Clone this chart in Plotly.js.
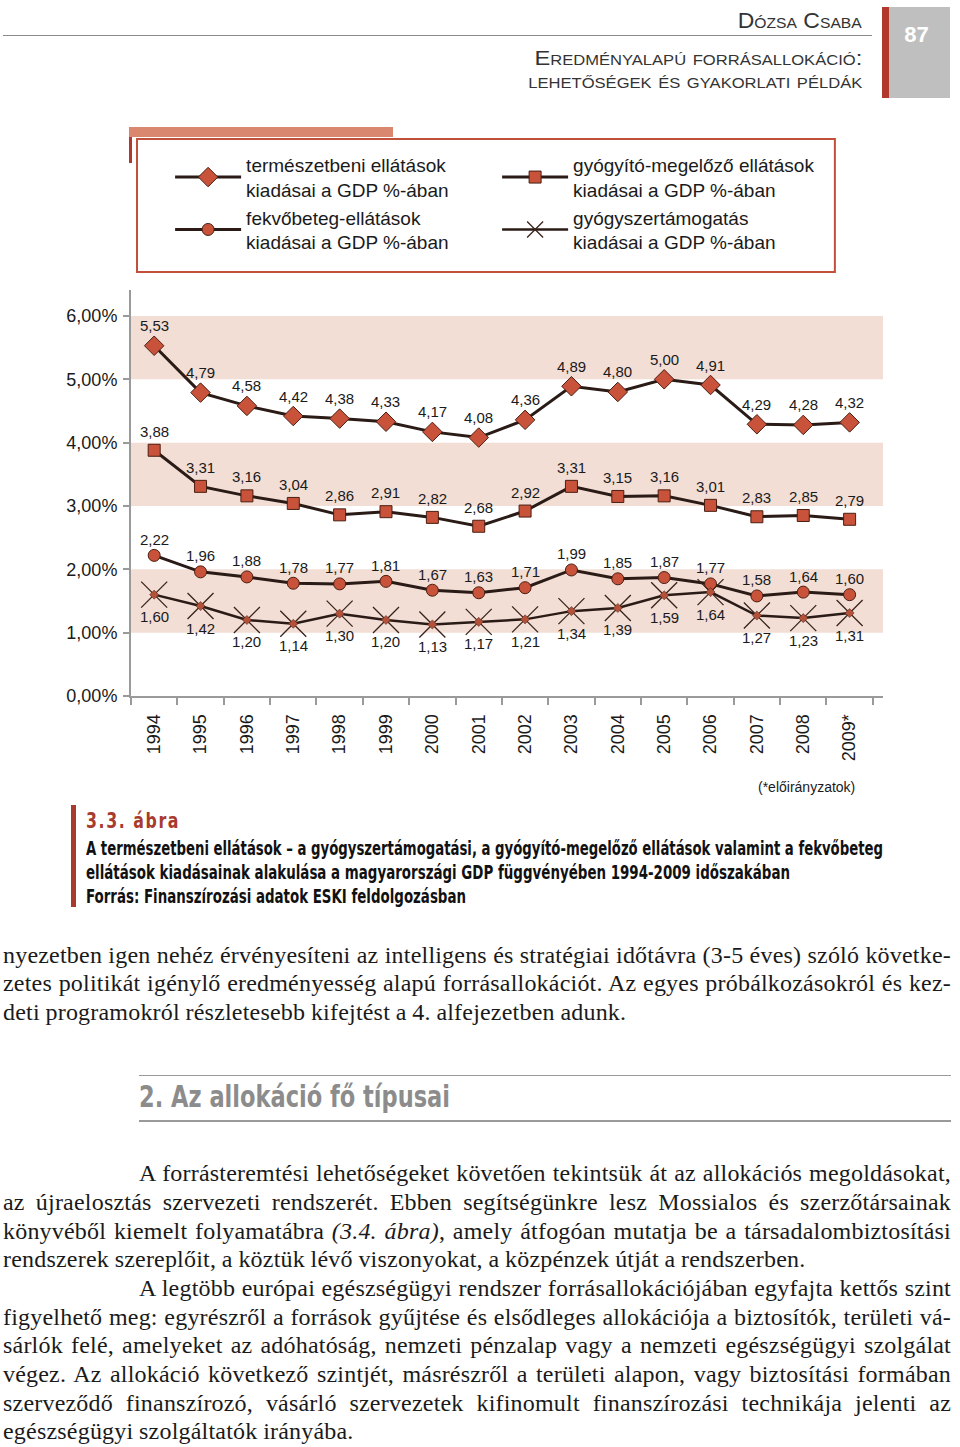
<!DOCTYPE html>
<html><head><meta charset="utf-8">
<script src="https://cdn.plot.ly/plotly-3.0.1.min.js"></script>
<style>
html,body{margin:0;padding:0;background:#fff;}
body{width:960px;height:1447px;position:relative;overflow:hidden;}
.abs{position:absolute;}
.cond{font-family:"Liberation Sans Narrow","DejaVu Sans Condensed",Arial,sans-serif;}
.hdr{right:98px;text-align:right;color:#333;font-variant:small-caps;white-space:nowrap;font-family:"Liberation Sans","DejaVu Sans Condensed",Arial,sans-serif;font-size:22px;line-height:20px;}
.ln{position:absolute;left:3px;width:948px;font-family:"Liberation Serif","DejaVu Serif",serif;font-size:24px;letter-spacing:0.2px;word-spacing:-0.5px;line-height:28px;color:#1a1a1a;text-align:justify;text-align-last:justify;white-space:nowrap;}
.ln.last{text-align-last:left;}
.ln.ind{left:139px;width:812px;}
.cap{left:86px;font-weight:bold;font-size:19px;line-height:24px;color:#111;white-space:nowrap;}
#chart{position:absolute;left:0;top:0;width:960px;height:820px;}
</style></head>
<body>
<div id="chart"></div>

<!-- header -->
<div class="abs hdr" id="h1" style="top:11px;">Dózsa Csaba</div>
<div class="abs" style="left:3px;top:35px;width:869px;height:1px;background:#8a8a8a;"></div>
<div class="abs hdr" id="h2" style="top:47px;font-size:20px;line-height:23px;">Eredményalapú forrásallokáció:<br>lehetőségek és gyakorlati példák</div>
<div class="abs" style="left:882px;top:7px;width:7px;height:91px;background:#B0382C;"></div>
<div class="abs" style="left:889px;top:7px;width:61px;height:91px;background:#BFBFBF;"></div>
<div class="abs" style="left:889px;top:22px;width:55px;text-align:center;color:#fff;font:bold 22px Arial,'Liberation Sans',sans-serif;">87</div>

<!-- caption -->
<div class="abs" style="left:71px;top:805px;width:5px;height:102px;background:#A93A2E;"></div>
<div class="abs cond" id="c0" style="left:86px;top:808px;font-weight:bold;font-size:22px;letter-spacing:2px;color:#A93A2E;white-space:nowrap;">3.3. ábra</div>
<div class="abs cond cap" id="c1" style="top:836px;">A természetbeni ellátások – a gyógyszertámogatási, a gyógyító-megelőző ellátások valamint a fekvőbeteg</div>
<div class="abs cond cap" id="c2" style="top:860px;">ellátások kiadásainak alakulása a magyarországi GDP függvényében 1994-2009 időszakában</div>
<div class="abs cond cap" id="c3" style="top:884px;">Forrás: Finanszírozási adatok ESKI feldolgozásban</div>

<!-- body text -->
<div class="ln" style="top:941px;">nyezetben igen nehéz érvényesíteni az intelligens és stratégiai időtávra (3-5 éves) szóló követke-</div>
<div class="ln" style="top:969px;">zetes politikát igénylő eredményesség alapú forrásallokációt. Az egyes próbálkozásokról és kez-</div>
<div class="ln last" style="top:998px;">deti programokról részletesebb kifejtést a 4. alfejezetben adunk.</div>

<div class="abs" style="left:139px;top:1075px;width:812px;height:1px;background:#9a9a9a;"></div>
<div class="abs cond" id="hd" style="left:139px;top:1080px;font-weight:bold;font-size:30px;line-height:34px;color:#8c8c8c;white-space:nowrap;">2. Az allokáció fő típusai</div>
<div class="abs" style="left:139px;top:1120px;width:812px;height:2px;background:#9a9a9a;"></div>

<div class="ln ind" style="top:1159px;">A forrásteremtési lehetőségeket követően tekintsük át az allokációs megoldásokat,</div>
<div class="ln" style="top:1188px;">az újraelosztás szervezeti rendszerét. Ebben segítségünkre lesz Mossialos és szerzőtársainak</div>
<div class="ln" style="top:1217px;">könyvéből kiemelt folyamatábra <i>(3.4. ábra)</i>, amely átfogóan mutatja be a társadalombiztosítási</div>
<div class="ln last" style="top:1245px;">rendszerek szereplőit, a köztük lévő viszonyokat, a közpénzek útját a rendszerben.</div>
<div class="ln ind" style="top:1274px;">A legtöbb európai egészségügyi rendszer forrásallokációjában egyfajta kettős szint</div>
<div class="ln" style="top:1303px;">figyelhető meg: egyrészről a források gyűjtése és elsődleges allokációja a biztosítók, területi vá-</div>
<div class="ln" style="top:1331px;">sárlók felé, amelyeket az adóhatóság, nemzeti pénzalap vagy a nemzeti egészségügyi szolgálat</div>
<div class="ln" style="top:1360px;">végez. Az allokáció következő szintjét, másrészről a területi alapon, vagy biztosítási formában</div>
<div class="ln" style="top:1389px;">szerveződő finanszírozó, vásárló szervezetek kifinomult finanszírozási technikája jelenti az</div>
<div class="ln last" style="top:1417px;">egészségügyi szolgáltatók irányába.</div>

<script>
// ---- data ----
const years = ['1994','1995','1996','1997','1998','1999','2000','2001','2002','2003','2004','2005','2006','2007','2008','2009*'];
const termeszetbeni = [5.53,4.79,4.58,4.42,4.38,4.33,4.17,4.08,4.36,4.89,4.80,5.00,4.91,4.29,4.28,4.32];
const gyogyitoMegelozo = [3.88,3.31,3.16,3.04,2.86,2.91,2.82,2.68,2.92,3.31,3.15,3.16,3.01,2.83,2.85,2.79];
const fekvobeteg = [2.22,1.96,1.88,1.78,1.77,1.81,1.67,1.63,1.71,1.99,1.85,1.87,1.77,1.58,1.64,1.60];
const gyogyszertamogatas = [1.60,1.42,1.20,1.14,1.30,1.20,1.13,1.17,1.21,1.34,1.39,1.59,1.64,1.27,1.23,1.31];
const seriesNames = [
  'természetbeni ellátások<br>kiadásai a GDP %-ában',
  'gyógyító-megelőző ellátások<br>kiadásai a GDP %-ában',
  'fekvőbeteg-ellátások<br>kiadásai a GDP %-ában',
  'gyógyszertámogatás<br>kiadásai a GDP %-ában'
];
const yTicks = [0,1,2,3,4,5,6];
const bands = [[1,2],[3,4],[5,6]];
const footnote = '(*előirányzatok)';

// ---- fit condensed text widths ----
function fit(id, w, origin) {
  const el = document.getElementById(id);
  const r = el.getBoundingClientRect().width;
  el.style.transformOrigin = origin + ' top';
  el.style.transform = 'scaleX(' + (w / r) + ')';
}
fit('h1', 124, 'right'); fit('h2', 334, 'right');
fit('c0', 94, 'left'); fit('c1', 797, 'left'); fit('c2', 704, 'left'); fit('c3', 380, 'left');
fit('hd', 311, 'left');

// ---- chart ----
const FONT = 'Arial, "Liberation Sans", sans-serif';
const LINE = '#2a1b16';
const FILL = '#C8533A';
const EDGE = '#4a1e12';
const fmt = v => v.toFixed(2).replace('.', ',');

const traces = [
  {x: years, y: termeszetbeni, name: seriesNames[0], mode: 'lines+markers',
   line: {color: LINE, width: 3},
   marker: {symbol: 'diamond', size: 15, color: FILL, line: {color: EDGE, width: 1}}},
  {x: years, y: gyogyitoMegelozo, name: seriesNames[1], mode: 'lines+markers',
   line: {color: LINE, width: 3},
   marker: {symbol: 'square', size: 12, color: FILL, line: {color: EDGE, width: 1}}},
  {x: years, y: fekvobeteg, name: seriesNames[2], mode: 'lines+markers',
   line: {color: LINE, width: 3},
   marker: {symbol: 'circle', size: 12, color: FILL, line: {color: EDGE, width: 1}}},
  {x: years, y: gyogyszertamogatas, name: seriesNames[3], mode: 'lines+markers',
   line: {color: LINE, width: 2.5},
   marker: {symbol: 'x-thin', size: 26, color: LINE, line: {color: '#3a2219', width: 1.3}}},
  {x: years, y: gyogyszertamogatas, mode: 'markers', showlegend: false, hoverinfo: 'skip',
   marker: {symbol: 'diamond', size: 7, color: '#B4513A', line: {color: EDGE, width: 0.5}}}
];

const annotations = [];
const labelSets = [[termeszetbeni, 20], [gyogyitoMegelozo, 19], [fekvobeteg, 16], [gyogyszertamogatas, -22]];
labelSets.forEach(([vals, shift]) => {
  vals.forEach((v, i) => {
    annotations.push({x: i, y: v, xref: 'x', yref: 'y', text: fmt(v), showarrow: false,
      yshift: shift, font: {family: FONT, size: 15, color: '#1a1a1a'}});
  });
});
annotations.push({xref: 'paper', yref: 'paper', x: 0.9654, y: -0.224, xanchor: 'right', yanchor: 'middle',
  text: footnote, showarrow: false, font: {family: FONT, size: 14, color: '#1a1a1a'}});

const shapes = bands.map(b => ({type: 'rect', layer: 'below', xref: 'paper', yref: 'y',
  x0: 0, x1: 1, y0: b[0], y1: b[1], fillcolor: '#F2DED5', line: {width: 0}}));
shapes.push({type: 'rect', xref: 'paper', yref: 'paper', x0: 0.008, x1: 0.936, y0: 1.0443, y1: 1.372,
  line: {color: '#C0503A', width: 2}, fillcolor: 'rgba(0,0,0,0)'});
shapes.push({type: 'rect', xref: 'paper', yref: 'paper', x0: -0.0027, x1: 0.3484, y0: 1.3768, y1: 1.4015,
  line: {width: 0}, fillcolor: '#D9876F'});
shapes.push({type: 'rect', xref: 'paper', yref: 'paper', x0: -0.0027, x1: 0.0013, y0: 1.3128, y1: 1.3768,
  line: {width: 0}, fillcolor: '#B0382C'});

const layout = {
  width: 960, height: 820,
  margin: {l: 131, r: 77, t: 290, b: 124, pad: 0, autoexpand: false},
  paper_bgcolor: 'rgba(0,0,0,0)', plot_bgcolor: 'rgba(0,0,0,0)',
  separators: ',.',
  font: {family: FONT, color: '#1a1a1a'},
  xaxis: {type: 'category', categoryorder: 'array', categoryarray: years,
    range: [-0.5, 15.72], tickson: 'boundaries', ticks: 'outside', ticklen: 7, tickwidth: 2, tickcolor: '#9a9a9a',
    showline: true, linecolor: '#9a9a9a', linewidth: 2, showgrid: false, zeroline: false,
    tickangle: -90, ticklabelstandoff: 9, tickfont: {family: FONT, size: 18, color: '#1a1a1a'}},
  yaxis: {range: [0, 6.41], tickmode: 'array', tickvals: yTicks, ticktext: yTicks.map(v => fmt(v) + '%'),
    ticks: 'outside', ticklen: 6, tickwidth: 2, tickcolor: '#9a9a9a',
    showline: true, linecolor: '#9a9a9a', linewidth: 2, showgrid: false, zeroline: false,
    ticklabelstandoff: 2, tickfont: {family: FONT, size: 18, color: '#1a1a1a'}},
  showlegend: true,
  legend: {orientation: 'h', x: 0.052, xanchor: 'left', y: 1.355, yanchor: 'top',
    itemwidth: 66, entrywidth: 246, entrywidthmode: 'pixels', traceorder: 'normal',
    bgcolor: 'rgba(0,0,0,0)', borderwidth: 0,
    font: {family: FONT, size: 19, color: '#1a1a1a'}},
  shapes: shapes,
  annotations: annotations,
  hovermode: false
};

Plotly.newPlot('chart', traces, layout, {displayModeBar: false, staticPlot: true});
</script>
</body></html>
